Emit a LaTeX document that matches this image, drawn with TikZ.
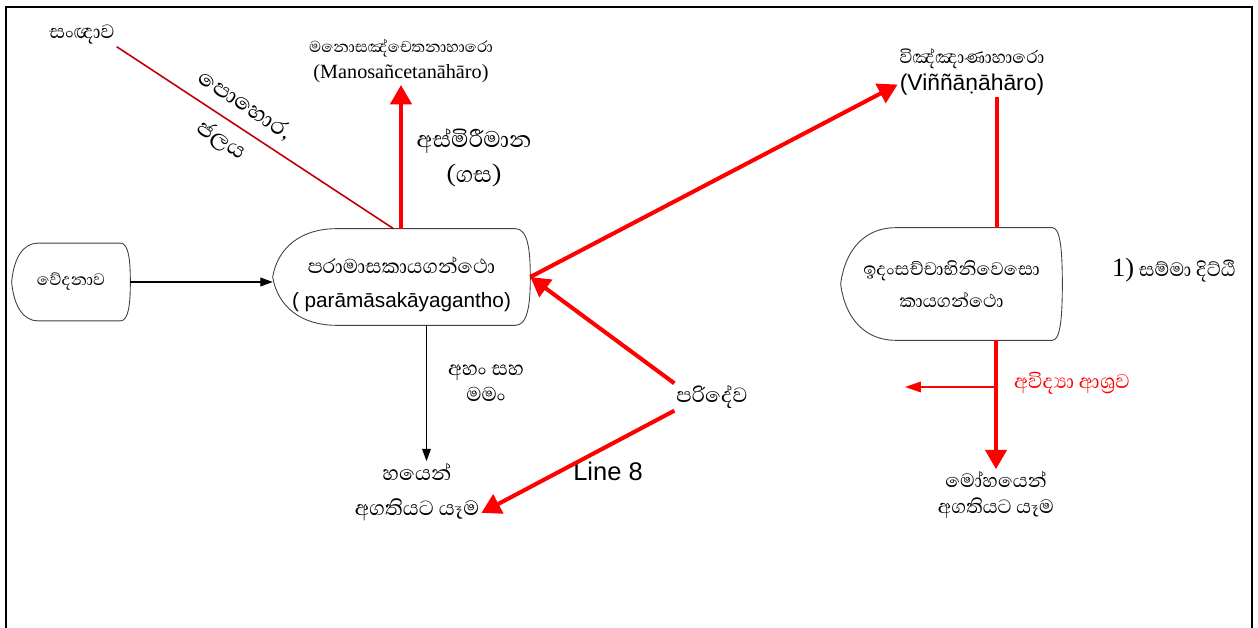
\documentclass[tikz,border=0pt]{standalone}
\usepackage{fontspec}
\setmainfont{Liberation Serif}
\newfontfamily\sinhalafont[Script=Sinhala]{Abhaya Libre}
\newfontfamily\arial{Liberation Sans}
\usepackage{tikz}
\usetikzlibrary{arrows,arrows.meta,calc,positioning}

\definecolor{darkred}{RGB}{192,0,0}
\newcommand{\fsz}[1]{\fontsize{#1}{#1}\selectfont}

% outline of a display shape round a node: #2 left inset, #3 right inset (px)
\newcommand{\dispoutline}[3]{%
  \draw[shapeline] (#1.west)
    .. controls ($(#1.west)!0.62!(#1.north west)+(0.08*#2,0)$) and ($(#1.north west)+(0.45*#2,0)$) .. ($(#1.north west)+(#2,0)$)
    -- ($(#1.north east)-(#3,0)$)
    .. controls ($(#1.north east)-(0.2*#3,0)$) and ($(#1.east)!0.6!(#1.north east)$) .. (#1.east)
    .. controls ($(#1.east)!0.6!(#1.south east)$) and ($(#1.south east)-(0.2*#3,0)$) .. ($(#1.south east)-(#3,0)$)
    -- ($(#1.south west)+(#2,0)$)
    .. controls ($(#1.south west)+(0.45*#2,0)$) and ($(#1.west)!0.62!(#1.south west)+(0.08*#2,0)$) .. (#1.west);}

\begin{document}
\begin{tikzpicture}[x=0.02cm,y=-0.02cm]
\tikzstyle{shapeline}=[draw=black!75, line width=0.5pt]
\tikzstyle{dispbox}=[rectangle, inner sep=0pt, align=center, font=\sinhalafont\fontsize{14}{18}\selectfont]
\tikzstyle{lbl}=[inner sep=1pt, align=center, font=\sinhalafont\fontsize{14}{15}\selectfont]
\tikzstyle{biglbl}=[inner sep=1pt, align=center, font=\sinhalafont\fontsize{16}{20}\selectfont]
\tikzstyle{redarrow}=[draw=red, line width=2.3pt, -{Triangle[length=11pt,width=12pt]}]
\tikzstyle{redline}=[draw=red, line width=2.3pt]
\tikzstyle{blackarrow}=[draw=black, line width=0.6pt, -{Triangle[length=7pt,width=5pt]}]

\useasboundingbox (0,0) rectangle (1258,628);
\draw[line width=1.1pt] (6,628) -- (6,7) -- (1252,7) -- (1252,628);

% shapes
\node[dispbox, font=\sinhalafont\fontsize{12}{14}\selectfont, minimum width=2.36cm, minimum height=1.54cm] (ved) at (71,282) {වේදනාව};
\node[dispbox, minimum width=5.14cm, minimum height=1.92cm] (param) at (401.5,277)
  {\fsz{14.5}\rule{0pt}{18pt}පරාමාසකායගන්ථො\\[1pt]{\arial\fsz{11.8}( parāmāsakāyagantho)}};
\node[dispbox, font=\sinhalafont\fontsize{13.3}{18}\selectfont, minimum width=4.42cm, minimum height=2.24cm] (ident) at (951.5,284)
  {ඉදංසච්චාභිනිවෙසො\\කායගන්ථො};
\dispoutline{ved}{26}{10}
\dispoutline{param}{64}{15}
\dispoutline{ident}{55}{10}

% labels
\node[lbl] (sanna) at (82,35) {සංඥාව};
\node[lbl, font=\sinhalafont\fontsize{11.5}{15}\selectfont] (mano) at (401,61) {මනොසඤ්චෙතනාහාරො\\{\rmfamily (Manosañcetanāhāro)}};
\node[biglbl, font=\sinhalafont\fontsize{16.5}{20}\selectfont] (asmi) at (474,158) {අස්මිරීමාන\\(ගස)};
\node[lbl, font=\sinhalafont\fontsize{13}{15}\selectfont] (vinn) at (972,72) {විඤ්ඤාණාහාරො\\{\arial (Viññāṇāhāro)}};
\node[lbl] (ditthi) at (1174,270) {{\rmfamily\fsz{15}1)} සම්මා දිට්ඨි};
\node[lbl, text=red, font=\sinhalafont\fontsize{14.5}{15}\selectfont] (avid) at (1072,383) {අවිද්‍යා ආශ්‍රව};
\node[lbl] (moha) at (996,495) {මෝහයෙන්\\අගතියට යෑම};
\node[lbl, font=\sinhalafont\fontsize{14.5}{15}\selectfont] (aham) at (486,383) {අහං සහ\\මමං};
\node[biglbl, font=\sinhalafont\fontsize{15}{20}\selectfont] (haya) at (417,492) {හයෙන්\\අගතියට යෑම};
\node[lbl, font=\sinhalafont\fontsize{15}{15}\selectfont] (pari) at (712,397) {පරිදේව};
\node[inner sep=1pt, font=\arial\fontsize{14.5}{16}\selectfont] (line8) at (608,471) {Line 8};

% connectors
\draw[blackarrow] (ved.east) -- (ved.east -| param.west);
\draw[draw=darkred, line width=0.9pt] (sanna.south east) -- node[sloped, biglbl, font=\sinhalafont\fontsize{16.5}{24}\selectfont, pos=0.42] (fert) {පොහොර,\\ජලය} ([xshift=-0.16cm]param.north);
\draw[redarrow] (mano.south |- param.north) -- (mano.south);
\draw[redarrow] (param.east) -- ($(vinn.west)!0.5!(vinn.south west)$);
\draw[redline] ([xshift=0.5cm]vinn.south) -- ([xshift=0.5cm]vinn.south |- ident.north);
\draw[redarrow] (moha.north |- ident.south) -- (moha.north);
\coordinate (avidend) at (905,387);
\draw[draw=red, line width=0.9pt, -{Triangle[length=9pt,width=6pt]}] (moha.north |- avidend) -- (avidend);
\draw[blackarrow] ([xshift=0.5cm]param.south) -- ([xshift=0.5cm]param.south |- haya.north);
\draw[redarrow] (pari.north west) -- (param.east);
\draw[redarrow] (pari.south west) -- ([yshift=0.2cm]haya.south east);
\end{tikzpicture}
\end{document}
